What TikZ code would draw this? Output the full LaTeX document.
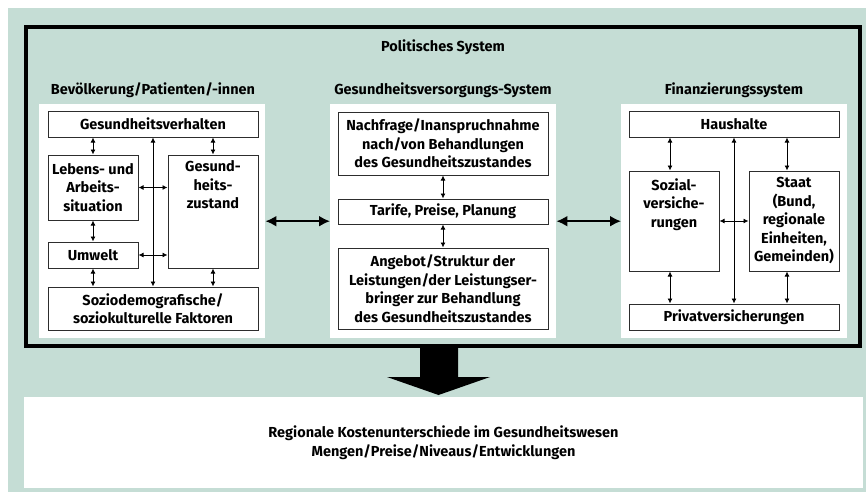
\documentclass[tikz,border=0pt]{standalone}
\usepackage{fontspec}
\setmainfont{Fira Sans}
\usetikzlibrary{arrows.meta}
\definecolor{polgreen}{RGB}{197,221,213}
\definecolor{boxline}{RGB}{45,45,45}

\begin{document}
\begin{tikzpicture}[x=1pt,y=-1pt,>={Latex[length=5pt,width=5pt]},
      font=\bfseries\fontsize{14.5}{18.5}\selectfont,
      panel/.style={fill=white,inner sep=0pt,minimum width=226,minimum height=234,anchor=north west},
      box/.style={draw=boxline,line width=1pt,fill=white,align=center,inner sep=1pt},
      wide/.style={box,minimum width=210},
      narrow/.style={box,minimum width=90},
      head/.style={align=center,inner sep=0pt},
      toptext/.style={align=center,inner sep=0pt,anchor=north},
      link/.style={<->,line width=0.9pt},
      big link/.style={{Latex[length=11pt,width=11pt]}-{Latex[length=11pt,width=11pt]},line width=2pt}]
 \useasboundingbox (0,0) rectangle (866,492);
 \fill[polgreen] (8,8) rectangle (866,492);

 % politisches System
 \node[draw,line width=4pt,inner sep=0pt,minimum width=834,minimum height=319] (PS) at (443,186.5) {};
 \node[head] (PStitle) at (443,47) {Politisches System};

 % Bevoelkerung
 \node[head] (Hbev) at (153,90) {Bevölkerung/Patienten/-innen};
 \node[panel] (Pbev) at (39,104) {};
 \node[wide, minimum height=26] (GV) at (153,124) {Gesundheitsverhalten};
 \node[narrow, minimum height=65] (LA) at (93,187.5) {Lebens- und\\Arbeits-\\situation};
 \node[narrow, minimum height=113,
   label={[toptext,name=GZtext,yshift=-6pt]north:Gesund-\\heits-\\zustand}] (GZ) at (213,211.5) {};
 \node[narrow, minimum height=26] (UW) at (93,255) {Umwelt};
 \node[wide, minimum height=43] (SF) at (153,308.5) {Soziodemografische/\\soziokulturelle Faktoren};

 % Versorgung
 \node[head] (Hver) at (443,90) {Gesundheitsversorgungs-System};
 \node[panel] (Pver) at (330,104) {};
 \node[wide, minimum height=63] (NF) at (443,143.5) {Nachfrage/Inanspruchnahme\\nach/von Behandlungen\\des Gesundheitszustandes};
 \node[wide, minimum height=25] (TP) at (443,211.5) {Tarife, Preise, Planung};
 \node[wide, minimum height=81] (AS) at (443,288.5) {Angebot/Struktur der\\Leistungen/der Leistungser-\\bringer zur Behandlung\\des Gesundheitszustandes};

 % Finanzierung
 \node[head] (Hfin) at (734,90) {Finanzierungssystem};
 \node[panel] (Pfin) at (621,104) {};
 \node[wide, minimum height=26] (HH) at (734,124) {Haushalte};
 \node[narrow, minimum height=100,
   label={[toptext,name=SVtext,yshift=-8pt]north:Sozial-\\versiche-\\rungen}] (SV) at (674,221) {};
 \node[narrow, minimum height=100] (ST) at (794,221) {Staat\\(Bund,\\regionale\\Einheiten,\\Gemeinden)};
 \node[wide, minimum height=26] (PV) at (734,317) {Privatversicherungen};

 % Ergebnis
 \node[fill=white,inner sep=0pt,minimum width=839,minimum height=91,align=center] (RK) at (443.5,442.5)
   {Regionale Kostenunterschiede im Gesundheitswesen\\Mengen/Preise/Niveaus/Entwicklungen};
 \fill (420,348) -- (420,377) -- (387,377) -- (438.5,395) -- (490,377) -- (458,377) -- (458,348) -- cycle;

 \path[link]
  (LA.north |- GV.south) edge (LA.north)
  (GZ.north |- GV.south) edge (GZ.north)
  (GV.south) edge (GV.south |- SF.north)
  (LA.east) edge (GZ.west |- LA.east)
  (LA.south) edge (UW.north)
  (UW.east) edge (GZ.west |- UW.east)
  (UW.south) edge (UW.south |- SF.north)
  (GZ.south) edge (GZ.south |- SF.north)
  (NF.south) edge (TP.north)
  (TP.south) edge (AS.north)
  ([xshift=-4pt]SV.north |- HH.south) edge ([xshift=-4pt]SV.north)
  ([xshift=-7pt]ST.north |- HH.south) edge ([xshift=-7pt]ST.north)
  (HH.south) edge (HH.south |- PV.north)
  (SV.east) edge (ST.west)
  ([xshift=-4pt]SV.south) edge ([xshift=-4pt]SV.south |- PV.north)
  ([xshift=-7pt]ST.south) edge ([xshift=-7pt]ST.south |- PV.north);

 \path[big link]
  (Pbev.east) edge (Pver.west)
  (Pver.east) edge (Pfin.west);
\end{tikzpicture}
\end{document}
